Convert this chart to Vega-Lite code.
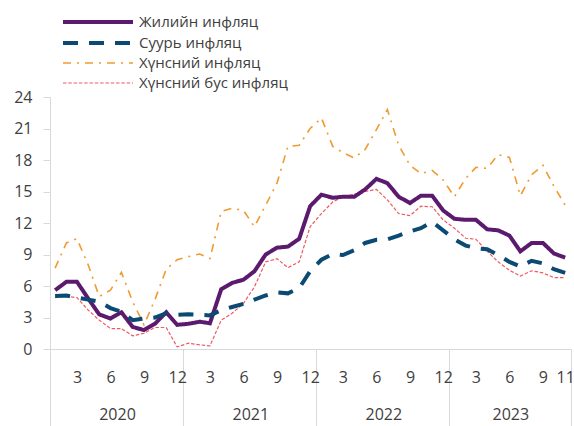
{
  "$schema": "https://vega.github.io/schema/vega-lite/v6.json",
  "width": 521,
  "height": 252,
  "autosize": "none",
  "padding": {"left": 50, "top": 97, "right": 3, "bottom": 77},
  "background": "white",
  "config": {
    "view": {"stroke": null},
    "font": "Open Sans",
    "axis": {"labelFont": "Open Sans", "labelColor": "#404040", "labelFontSize": 16, "domainColor": "#d9d9d9", "tickColor": "#d9d9d9", "grid": false, "title": null},
    "legend": {"orient": "none", "legendX": 13, "legendY": -84, "title": null, "symbolType": "M-5,0H5", "symbolSize": 196, "symbolOffset": 26, "labelFontSize": 15, "labelColor": "#404040", "labelFont": "Open Sans", "labelOffset": 32, "rowPadding": 4}
  },
  "data": {
    "values": [
      {"date": "2020-01-15", "Жилийн инфляц": 5.6, "Суурь инфляц": 5.05, "Хүнсний инфляц": 7.7, "Хүнсний бус инфляц": 4.9},
      {"date": "2020-02-15", "Жилийн инфляц": 6.4, "Суурь инфляц": 5.1, "Хүнсний инфляц": 10.1, "Хүнсний бус инфляц": 5.0},
      {"date": "2020-03-15", "Жилийн инфляц": 6.4, "Суурь инфляц": 4.9, "Хүнсний инфляц": 10.5, "Хүнсний бус инфляц": 4.9},
      {"date": "2020-04-15", "Жилийн инфляц": 4.8, "Суурь инфляц": 4.7, "Хүнсний инфляц": 8.0, "Хүнсний бус инфляц": 3.7},
      {"date": "2020-05-15", "Жилийн инфляц": 3.3, "Суурь инфляц": 4.5, "Хүнсний инфляц": 5.0, "Хүнсний бус инфляц": 2.75},
      {"date": "2020-06-15", "Жилийн инфляц": 2.9, "Суурь инфляц": 3.9, "Хүнсний инфляц": 5.6, "Хүнсний бус инфляц": 1.95},
      {"date": "2020-07-15", "Жилийн инфляц": 3.5, "Суурь инфляц": 3.55, "Хүнсний инфляц": 7.3, "Хүнсний бус инфляц": 1.95},
      {"date": "2020-08-15", "Жилийн инфляц": 2.1, "Суурь инфляц": 2.75, "Хүнсний инфляц": 4.5, "Хүнсний бус инфляц": 1.25},
      {"date": "2020-09-15", "Жилийн инфляц": 1.8, "Суурь инфляц": 2.9, "Хүнсний инфляц": 2.3, "Хүнсний бус инфляц": 1.5},
      {"date": "2020-10-15", "Жилийн инфляц": 2.4, "Суурь инфляц": 3.0, "Хүнсний инфляц": 4.7, "Хүнсний бус инфляц": 2.05},
      {"date": "2020-11-15", "Жилийн инфляц": 3.5, "Суурь инфляц": 3.4, "Хүнсний инфляц": 7.6, "Хүнсний бус инфляц": 2.05},
      {"date": "2020-12-15", "Жилийн инфляц": 2.3, "Суурь инфляц": 3.25, "Хүнсний инфляц": 8.5, "Хүнсний бус инфляц": 0.2},
      {"date": "2021-01-15", "Жилийн инфляц": 2.4, "Суурь инфляц": 3.3, "Хүнсний инфляц": 8.8, "Хүнсний бус инфляц": 0.55},
      {"date": "2021-02-15", "Жилийн инфляц": 2.6, "Суурь инфляц": 3.25, "Хүнсний инфляц": 9.05, "Хүнсний бус инфляц": 0.4},
      {"date": "2021-03-15", "Жилийн инфляц": 2.45, "Суурь инфляц": 3.2, "Хүнсний инфляц": 8.6, "Хүнсний бус инфляц": 0.3},
      {"date": "2021-04-15", "Жилийн инфляц": 5.7, "Суурь инфляц": 3.7, "Хүнсний инфляц": 13.1, "Хүнсний бус инфляц": 2.75},
      {"date": "2021-05-15", "Жилийн инфляц": 6.3, "Суурь инфляц": 4.0, "Хүнсний инфляц": 13.4, "Хүнсний бус инфляц": 3.4},
      {"date": "2021-06-15", "Жилийн инфляц": 6.6, "Суурь инфляц": 4.3, "Хүнсний инфляц": 13.2, "Хүнсний бус инфляц": 4.35},
      {"date": "2021-07-15", "Жилийн инфляц": 7.4, "Суурь инфляц": 4.7, "Хүнсний инфляц": 11.65, "Хүнсний бус инфляц": 5.9},
      {"date": "2021-08-15", "Жилийн инфляц": 9.0, "Суурь инфляц": 5.1, "Хүнсний инфляц": 13.7, "Хүнсний бус инфляц": 8.3},
      {"date": "2021-09-15", "Жилийн инфляц": 9.65, "Суурь инфляц": 5.4, "Хүнсний инфляц": 15.8, "Хүнсний бус инфляц": 8.6},
      {"date": "2021-10-15", "Жилийн инфляц": 9.75, "Суурь инфляц": 5.3, "Хүнсний инфляц": 19.3, "Хүнсний бус инфляц": 7.75},
      {"date": "2021-11-15", "Жилийн инфляц": 10.5, "Суурь инфляц": 5.8, "Хүнсний инфляц": 19.4, "Хүнсний бус инфляц": 8.3},
      {"date": "2021-12-15", "Жилийн инфляц": 13.6, "Суурь инфляц": 7.4, "Хүнсний инфляц": 21.0, "Хүнсний бус инфляц": 11.65},
      {"date": "2022-01-15", "Жилийн инфляц": 14.7, "Суурь инфляц": 8.5, "Хүнсний инфляц": 22.0, "Хүнсний бус инфляц": 12.9},
      {"date": "2022-02-15", "Жилийн инфляц": 14.4, "Суурь инфляц": 9.05, "Хүнсний инфляц": 19.3, "Хүнсний бус инфляц": 14.0},
      {"date": "2022-03-15", "Жилийн инфляц": 14.5, "Суурь инфляц": 8.95, "Хүнсний инфляц": 18.7, "Хүнсний бус инфляц": 14.5},
      {"date": "2022-04-15", "Жилийн инфляц": 14.5, "Суурь инфляц": 9.4, "Хүнсний инфляц": 18.2, "Хүнсний бус инфляц": 14.75},
      {"date": "2022-05-15", "Жилийн инфляц": 15.2, "Суурь инфляц": 10.1, "Хүнсний инфляц": 19.0, "Хүнсний бус инфляц": 15.0},
      {"date": "2022-06-15", "Жилийн инфляц": 16.2, "Суурь инфляц": 10.4, "Хүнсний инфляц": 20.9, "Хүнсний бус инфляц": 15.2},
      {"date": "2022-07-15", "Жилийн инфляц": 15.8, "Суурь инфляц": 10.45, "Хүнсний инфляц": 22.8, "Хүнсний бус инфляц": 14.2},
      {"date": "2022-08-15", "Жилийн инфляц": 14.5, "Суурь инфляц": 10.8, "Хүнсний инфляц": 19.4, "Хүнсний бус инфляц": 12.9},
      {"date": "2022-09-15", "Жилийн инфляц": 13.9, "Суурь инфляц": 11.2, "Хүнсний инфляц": 17.5, "Хүнсний бус инфляц": 12.7},
      {"date": "2022-10-15", "Жилийн инфляц": 14.6, "Суурь инфляц": 11.5, "Хүнсний инфляц": 16.7, "Хүнсний бус инфляц": 13.6},
      {"date": "2022-11-15", "Жилийн инфляц": 14.6, "Суурь инфляц": 12.1, "Хүнсний инфляц": 17.0, "Хүнсний бус инфляц": 13.55},
      {"date": "2022-12-15", "Жилийн инфляц": 13.2, "Суурь инфляц": 11.3, "Хүнсний инфляц": 16.1, "Хүнсний бус инфляц": 12.3},
      {"date": "2023-01-15", "Жилийн инфляц": 12.4, "Суурь инфляц": 10.45, "Хүнсний инфляц": 14.5, "Хүнсний бус инфляц": 11.5},
      {"date": "2023-02-15", "Жилийн инфляц": 12.3, "Суурь инфляц": 9.85, "Хүнсний инфляц": 16.25, "Хүнсний бус инфляц": 10.55},
      {"date": "2023-03-15", "Жилийн инфляц": 12.3, "Суурь инфляц": 9.6, "Хүнсний инфляц": 17.3, "Хүнсний бус инфляц": 10.45},
      {"date": "2023-04-15", "Жилийн инфляц": 11.4, "Суурь инфляц": 9.5, "Хүнсний инфляц": 17.2, "Хүнсний бус инфляц": 9.3},
      {"date": "2023-05-15", "Жилийн инфляц": 11.3, "Суурь инфляц": 8.95, "Хүнсний инфляц": 18.5, "Хүнсний бус инфляц": 8.3},
      {"date": "2023-06-15", "Жилийн инфляц": 10.8, "Суурь инфляц": 8.3, "Хүнсний инфляц": 18.25, "Хүнсний бус инфляц": 7.5},
      {"date": "2023-07-15", "Жилийн инфляц": 9.3, "Суурь инфляц": 7.85, "Хүнсний инфляц": 14.6, "Хүнсний бус инфляц": 6.95},
      {"date": "2023-08-15", "Жилийн инфляц": 10.1, "Суурь инфляц": 8.4, "Хүнсний инфляц": 16.6, "Хүнсний бус инфляц": 7.45},
      {"date": "2023-09-15", "Жилийн инфляц": 10.1, "Суурь инфляц": 8.15, "Хүнсний инфляц": 17.5, "Хүнсний бус инфляц": 7.25},
      {"date": "2023-10-15", "Жилийн инфляц": 9.1, "Суурь инфляц": 7.6, "Хүнсний инфляц": 15.5, "Хүнсний бус инфляц": 6.8},
      {"date": "2023-11-15", "Жилийн инфляц": 8.7, "Суурь инфляц": 7.25, "Хүнсний инфляц": 13.7, "Хүнсний бус инфляц": 6.8}
    ]
  },
  "transform": [
    {"fold": ["Жилийн инфляц", "Суурь инфляц", "Хүнсний инфляц", "Хүнсний бус инфляц"], "as": ["series", "value"]}
  ],
  "encoding": {
    "y": {"field": "value", "type": "quantitative", "scale": {"domain": [0, 24], "nice": false, "zero": true},
      "axis": {"values": [0, 3, 6, 9, 12, 15, 18, 21, 24], "tickSize": 7, "labelPadding": 11, "domain": true}},
    "color": {"field": "series", "type": "nominal",
      "scale": {"domain": ["Жилийн инфляц", "Суурь инфляц", "Хүнсний инфляц", "Хүнсний бус инфляц"], "range": ["#5c1a6e", "#0b4a72", "#f09a30", "#ee5a62"]}},
    "strokeDash": {"field": "series", "type": "nominal",
      "scale": {"domain": ["Жилийн инфляц", "Суурь инфляц", "Хүнсний инфляц", "Хүнсний бус инфляц"], "range": [[1, 0], [15, 11], [8, 6, 2, 6], [3.5, 1.8]]}},
    "strokeWidth": {"field": "series", "type": "nominal",
      "scale": {"type": "ordinal", "domain": ["Жилийн инфляц", "Суурь инфляц", "Хүнсний инфляц", "Хүнсний бус инфляц"], "range": [4, 4, 1.6, 1.2]}}
  },
  "layer": [
    {
      "transform": [{"filter": {"field": "series", "oneOf": ["Хүнсний инфляц", "Хүнсний бус инфляц"]}}],
      "mark": {"type": "line", "interpolate": "linear"},
      "encoding": {
        "x": {"field": "date", "type": "temporal",
          "scale": {"type": "utc", "domain": [{"year": 2020, "month": 1, "date": 1, "utc": true}, {"year": 2023, "month": 12, "date": 1, "utc": true}]},
          "axis": {
            "orient": "bottom",
            "values": [
              {"year": 2020, "month": 1, "date": 1, "utc": true},
              {"year": 2021, "month": 1, "date": 1, "utc": true},
              {"year": 2022, "month": 1, "date": 1, "utc": true},
              {"year": 2023, "month": 1, "date": 1, "utc": true},
              {"year": 2023, "month": 12, "date": 1, "utc": true}
            ],
            "domain": false, "ticks": true, "tickSize": 77, "tickColor": "#d9d9d9",
            "labelExpr": "utcmonth(datum.value) == 11 ? '' : utcFormat(datum.value, '%Y')",
            "labelOffset": {"condition": {"test": "utcyear(datum.value) == 2023", "value": 61}, "value": 67},
            "labelPadding": -20, "labelFlush": false, "labelOverlap": false, "labelBound": false
          }
        }
      }
    },
    {
      "transform": [{"filter": {"field": "series", "oneOf": ["Жилийн инфляц", "Суурь инфляц"]}}],
      "mark": {"type": "line", "interpolate": "linear"},
      "encoding": {
        "x": {"field": "date", "type": "temporal",
          "axis": {
            "orient": "bottom",
            "values": [
              {"year": 2020, "month": 3, "date": 15, "utc": true},
              {"year": 2020, "month": 6, "date": 15, "utc": true},
              {"year": 2020, "month": 9, "date": 15, "utc": true},
              {"year": 2020, "month": 12, "date": 15, "utc": true},
              {"year": 2021, "month": 3, "date": 15, "utc": true},
              {"year": 2021, "month": 6, "date": 15, "utc": true},
              {"year": 2021, "month": 9, "date": 15, "utc": true},
              {"year": 2021, "month": 12, "date": 15, "utc": true},
              {"year": 2022, "month": 3, "date": 15, "utc": true},
              {"year": 2022, "month": 6, "date": 15, "utc": true},
              {"year": 2022, "month": 9, "date": 15, "utc": true},
              {"year": 2022, "month": 12, "date": 15, "utc": true},
              {"year": 2023, "month": 3, "date": 15, "utc": true},
              {"year": 2023, "month": 6, "date": 15, "utc": true},
              {"year": 2023, "month": 9, "date": 15, "utc": true},
              {"year": 2023, "month": 11, "date": 15, "utc": true}
            ],
            "domain": true, "ticks": false,
            "labelExpr": "utcFormat(datum.value, '%-m')",
            "labelPadding": 20, "labelFlush": false, "labelOverlap": false, "labelBound": false
          }
        }
      }
    }
  ],
  "resolve": {"axis": {"x": "independent"}}
}
